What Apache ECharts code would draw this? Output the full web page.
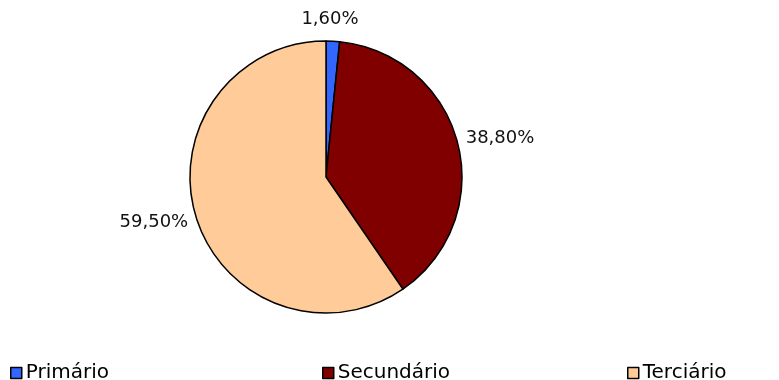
<!DOCTYPE html>
<html><head><meta charset="utf-8">
<script src="https://cdn.jsdelivr.net/npm/echarts@6/dist/echarts.min.js"></script>
<style>html,body{margin:0;padding:0;background:#fff}#c{width:779px;height:380px}</style>
</head><body><div id="c"></div>
<script>
const categories = ['Primário', 'Secundário', 'Terciário'];
const values = [1.6, 38.8, 59.5];
const valueLabels = ['1,60%', '38,80%', '59,50%'];
const colors = ['#3366FF', '#800000', '#FFCC99'];

const legendLefts = [10, 322, 627];
const labelShift = [{ align: 'center', dx: -8, dy: -19 }, { dy: -4 }, { dy: 4 }];

const chart = echarts.init(document.getElementById('c'));
const font = 'DejaVu Sans';
chart.setOption({
  animation: false,
  legend: categories.map((n, i) => ({
    data: [n], left: legendLefts[i], top: 363, padding: 0,
    itemWidth: 11, itemHeight: 11, itemGap: 0,
    icon: 'rect',
    itemStyle: { borderColor: '#000', borderWidth: 1.5 },
    textStyle: { fontFamily: font, fontSize: 20, color: '#000', padding: [0, 0, 0, -1] },
    selectedMode: false
  })),
  series: [{
    type: 'pie',
    center: [326, 177],
    radius: 136,
    startAngle: 90,
    clockwise: true,
    itemStyle: { borderColor: '#000', borderWidth: 1.5 },
    label: {
      show: true, position: 'outside', fontFamily: font, fontSize: 18, color: '#111',
      formatter: p => valueLabels[p.dataIndex]
    },
    labelLine: { show: false, length: 3, length2: 0 },
    labelLayout: p => labelShift[p.dataIndex],
    data: categories.map((n, i) => ({ name: n, value: values[i], itemStyle: { color: colors[i] } }))
  }]
});
</script></body></html>
